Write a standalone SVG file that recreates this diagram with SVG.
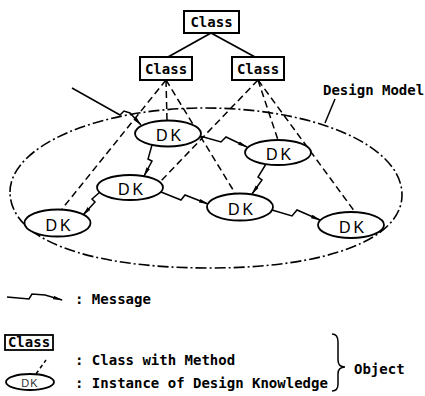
<svg xmlns="http://www.w3.org/2000/svg" width="425" height="396" viewBox="0 0 425 396">
<defs>
<style>
.box{fill:#fff;stroke:#000;stroke-width:2}
.mono{font-family:"DejaVu Sans Mono","Liberation Mono",monospace;font-size:14px;font-weight:bold;fill:#000}
.dk{fill:#fff;stroke:#000;stroke-width:1.8}
.dkt{font-family:"Liberation Sans",Arial,sans-serif;font-size:16px;letter-spacing:3px;fill:#000}
.tree{fill:none;stroke:#000;stroke-width:1.8}
.dash{fill:none;stroke:#000;stroke-width:1.5;stroke-dasharray:7 4}
.msg{fill:none;stroke:#000;stroke-width:1.5;stroke-linejoin:miter;marker-end:url(#arr)}
.model{fill:none;stroke:#000;stroke-width:1.6;stroke-dasharray:11 3 2 3}
</style>
<marker id="arr" markerUnits="userSpaceOnUse" markerWidth="10" markerHeight="5" refX="9" refY="2.5" orient="auto">
<path d="M0,0.6 L10,2.5 L0,4.4 Z" fill="#000"/>
</marker>
</defs>
<rect width="425" height="396" fill="#fff"/>

<g id="design-model">
<path class="model" d="M10,192 C10,146 98,108 205,108 C313,108 402,145 402,195 C402,240 325,268 210,268 C86,268 10,239 10,192 Z"/>
<line x1="335" y1="99" x2="325" y2="123" stroke="#000" stroke-width="1.5"/>
<text class="mono" x="323" y="95" font-size="13.7">Design Model</text>
</g>

<g id="connectors">
<line class="tree" x1="211" y1="33" x2="168" y2="57"/>
<line class="tree" x1="211" y1="33" x2="255" y2="57"/>
<line class="dash" x1="166" y1="80" x2="62" y2="209"/>
<line class="dash" x1="166" y1="80" x2="167" y2="120"/>
<line class="dash" x1="166" y1="80" x2="235" y2="193"/>
<line class="dash" x1="258" y1="80" x2="160" y2="182"/>
<line class="dash" x1="258" y1="80" x2="278" y2="140"/>
<line class="dash" x1="258" y1="80" x2="355" y2="212"/>
<path class="msg" d="M72,88 L120,115 L124,111 L130,113 L141,125"/>
<path class="msg" d="M152,145 L148,159 L152,161 L144,176"/>
<path class="msg" d="M100,192 L92,199 L95,202 L83,215"/>
<path class="msg" d="M200,136 L221,142 L226,137 L247,147"/>
<path class="msg" d="M266,164 L258,177 L262,180 L252,194"/>
<path class="msg" d="M161,192 L181,200 L185,195 L208,204"/>
<path class="msg" d="M272,210 L292,216 L297,210 L320,220"/>
</g>

<g id="class-top">
<rect class="box" x="184" y="11" width="55" height="22"/>
<text class="mono" x="211.5" y="27" text-anchor="middle">Class</text>
</g>
<g id="class-left">
<rect class="box" x="140" y="57" width="52" height="23"/>
<text class="mono" x="166" y="73.5" text-anchor="middle">Class</text>
</g>
<g id="class-right">
<rect class="box" x="232" y="57" width="52" height="23"/>
<text class="mono" x="258" y="73.5" text-anchor="middle">Class</text>
</g>

<g id="dk1">
<ellipse class="dk" cx="168" cy="133.5" rx="33" ry="13"/>
<text class="dkt" x="156" y="141">DK</text>
</g>
<g id="dk2">
<ellipse class="dk" cx="278" cy="152.5" rx="33" ry="12.5"/>
<text class="dkt" x="266" y="160">DK</text>
</g>
<g id="dk3">
<ellipse class="dk" cx="130" cy="187.5" rx="33" ry="12.5"/>
<text class="dkt" x="118" y="195">DK</text>
</g>
<g id="dk4">
<ellipse class="dk" cx="57.5" cy="223" rx="33" ry="13.5"/>
<text class="dkt" x="45.5" y="230.5">DK</text>
</g>
<g id="dk5">
<ellipse class="dk" cx="240" cy="207" rx="33" ry="13.5"/>
<text class="dkt" x="228" y="214.5">DK</text>
</g>
<g id="dk6">
<ellipse class="dk" cx="351" cy="225" rx="33" ry="13"/>
<text class="dkt" x="339" y="232.5">DK</text>
</g>

<g id="legend">
<path class="msg" d="M7,297 L29,299 L32,294 L45,295 L62,300"/>
<text class="mono" x="75" y="304">: Message</text>
<rect x="5" y="335" width="48" height="15" fill="#fff" stroke="#000" stroke-width="1.8"/>
<text class="mono" x="29" y="347" font-size="10" text-anchor="middle">Class</text>
<text class="mono" x="75" y="365">: Class with Method</text>
<line x1="36" y1="374" x2="46" y2="360" stroke="#000" stroke-width="1.5" stroke-dasharray="4 3"/>
<ellipse cx="30" cy="382" rx="24" ry="8" fill="#fff" stroke="#000" stroke-width="1.8"/>
<text x="30" y="386.5" font-family="Liberation Sans, Arial, sans-serif" font-size="11" letter-spacing="1" text-anchor="middle" fill="#333">DK</text>
<text class="mono" x="75" y="388">: Instance of Design Knowledge</text>
<path d="M332,334 Q338,334 338,342 L338,360 Q338,367 345,367 Q338,367 338,374 L338,384 Q338,391 332,391" fill="none" stroke="#000" stroke-width="1.5"/>
<text class="mono" x="354" y="374">Object</text>
</g>
</svg>
